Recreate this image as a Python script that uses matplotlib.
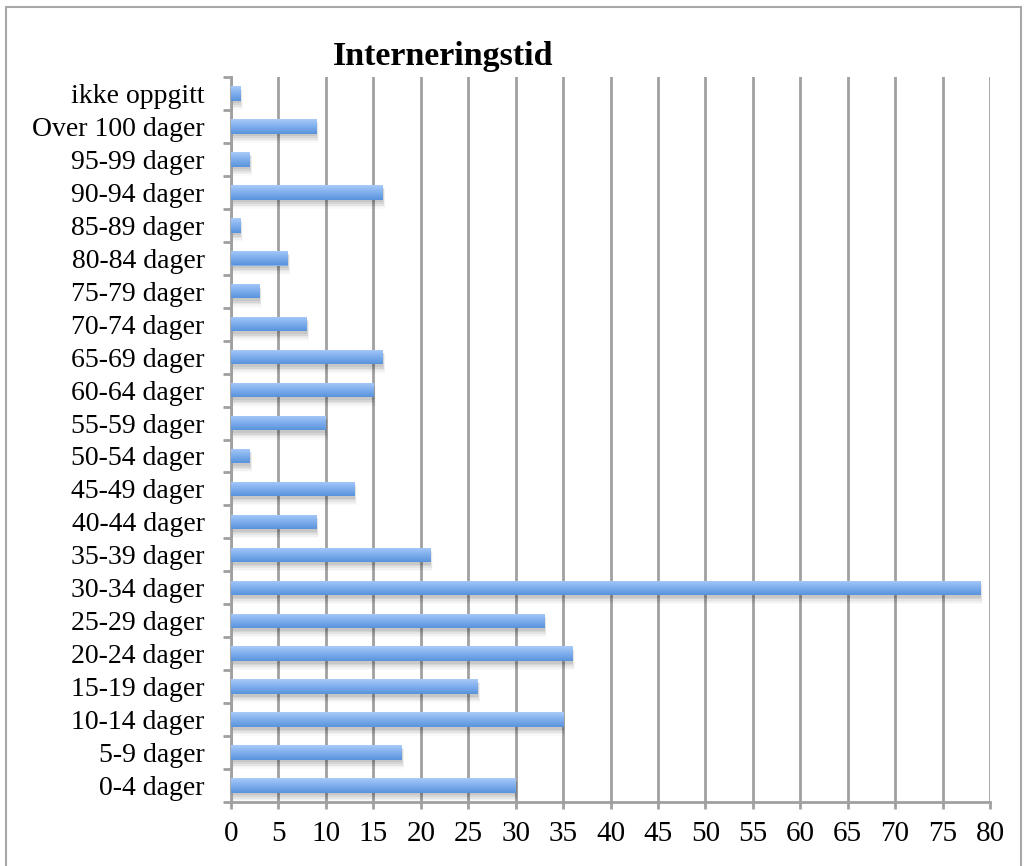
import matplotlib
matplotlib.use("Agg")
import matplotlib.pyplot as plt
import numpy as np
from matplotlib.patches import Rectangle
from matplotlib.colors import LinearSegmentedColormap

categories = ["0-4 dager", "5-9 dager", "10-14 dager", "15-19 dager", "20-24 dager",
              "25-29 dager", "30-34 dager", "35-39 dager", "40-44 dager", "45-49 dager",
              "50-54 dager", "55-59 dager", "60-64 dager", "65-69 dager", "70-74 dager",
              "75-79 dager", "80-84 dager", "85-89 dager", "90-94 dager", "95-99 dager",
              "Over 100 dager", "ikke oppgitt"]
values = [30, 18, 35, 26, 36, 33, 79, 21, 9, 13, 2, 10, 15, 16, 8, 3, 6, 1, 16, 2, 9, 1]
x_ticks = list(range(0, 81, 5))
title = "Interneringstid"

plt.rcParams['font.family'] = ['Liberation Serif', 'DejaVu Serif']

fig = plt.figure(figsize=(10.26, 8.66), dpi=100)
fig.patches.append(Rectangle((6/1026, -0.01), 1015/1026, 1 - 7/866 + 0.01,
                             transform=fig.transFigure, fill=False,
                             edgecolor='#a8a8a8', linewidth=1.5))
ax = fig.add_axes([231/1026, 1 - 802/866, (990 - 231)/1026, (802 - 77)/866])

y = np.arange(len(categories))
h = 0.44

# soft shadow below the bars
for k, a in zip(range(5), [0.07, 0.06, 0.05, 0.035, 0.02]):
    ax.barh(y - 0.08 - 0.03 * k, [v + 0.05 * k for v in values], height=h + 0.04 * k,
            left=0.05, color='black', alpha=a, linewidth=0, zorder=2)

bars = ax.barh(y, values, height=h, color='#7fb0ec', linewidth=0, zorder=3)

cmap = LinearSegmentedColormap.from_list('g', ['#5a93dc', '#7eaeec', '#a9cbf9'])
grad = np.linspace(0, 1, 64).reshape(-1, 1)
for b in bars:
    x0, y0 = b.get_x(), b.get_y()
    w, hh = b.get_width(), b.get_height()
    im = ax.imshow(grad, extent=(x0, x0 + w, y0, y0 + hh), origin='lower',
                   aspect='auto', cmap=cmap, zorder=4)
    im.set_clip_path(b)

ax.set_xlim(0, 80)
ax.set_ylim(-0.5, len(categories) - 0.5)
ax.set_xticks(x_ticks)
ax.set_xticklabels([str(t) for t in x_ticks])
ax.set_yticks(y)
ax.set_yticklabels(categories)
ax.set_yticks(np.arange(-0.5, len(categories), 1), minor=True)

ax.grid(axis='x', color='#a0a0a0', linewidth=2, zorder=1)
ax.set_axisbelow(True)
for s in ['top', 'right']:
    ax.spines[s].set_visible(False)
for s in ['left', 'bottom']:
    ax.spines[s].set_color('#a0a0a0')
    ax.spines[s].set_linewidth(2)

ax.tick_params(axis='y', which='major', length=0, pad=19, labelsize=20)
ax.tick_params(axis='y', which='minor', length=6, width=2, color='#a0a0a0')
ax.tick_params(axis='x', which='major', length=5, width=2, color='#a0a0a0', pad=9, labelsize=21)

fig.text(443/1026, 1 - 57/866, title, ha='center', va='center', fontsize=24.5, fontweight='bold')

fig.savefig('out.png', dpi=100)
